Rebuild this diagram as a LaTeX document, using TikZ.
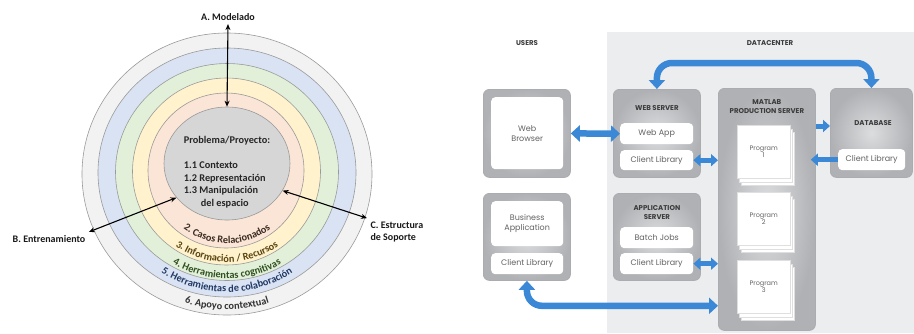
\documentclass[tikz,border=0pt]{standalone}
\usepackage{fontspec}
\setmainfont{Carlito}
\newfontfamily\rfont{Poppins}
\usetikzlibrary{arrows.meta,shapes.geometric,decorations.text,positioning}

\definecolor{ringsix}{HTML}{F2F2F2}
\definecolor{ringfive}{HTML}{DAE3F3}
\definecolor{ringfour}{HTML}{E2F0D9}
\definecolor{ringthree}{HTML}{FFF2CC}
\definecolor{ringtwo}{HTML}{FBE5D6}
\definecolor{ringone}{HTML}{D6D6D6}
\definecolor{ringline}{HTML}{9A9A9A}
\definecolor{txttwo}{HTML}{3A2A22}
\definecolor{txtthree}{HTML}{5A4410}
\definecolor{txtfour}{HTML}{2F5020}
\definecolor{txtfive}{HTML}{1F3864}
\definecolor{txtsix}{HTML}{333333}
\definecolor{dcbg}{HTML}{ECEDEF}
\definecolor{srvin}{HTML}{DCDDDF}
\definecolor{srvout}{HTML}{B0B1B4}
\definecolor{srvline}{HTML}{ABACAF}
\definecolor{hdrgray}{HTML}{3C3C3C}
\definecolor{bodygray}{HTML}{626262}
\definecolor{flowblue}{HTML}{3A88D6}

\tikzset{
  lbl/.style={font=\bfseries\fontsize{10}{12.5}\selectfont, text=black!90},
  dbl/.style={{Stealth[length=6pt,width=5pt]}-{Stealth[length=6pt,width=5pt]}, line width=1.1pt},
  srvbox/.style={draw=srvline, inner color=srvin, outer color=srvout, rounded corners=6pt, anchor=north west, inner sep=0pt, line width=0.8pt},
  wbox/.style={fill=white, rounded corners=4pt, anchor=north west, inner sep=0pt, font=\rfont\fontsize{8}{10}\selectfont, text=bodygray, align=center},
  hdr/.style={font=\rfont\bfseries\fontsize{7}{8.5}\selectfont, text=hdrgray, align=center},
  page/.style={fill=white, draw=gray!25, anchor=north west, minimum width=53pt, minimum height=53pt, inner sep=0pt, font=\rfont\fontsize{6.5}{7.5}\selectfont, text=bodygray, align=center},
  bigdbl/.style={draw=flowblue, line width=6.5pt, {Triangle[width=16pt,length=9pt]}-{Triangle[width=16pt,length=9pt]}},
  smdbl/.style={draw=flowblue, line width=5pt, {Triangle[width=12pt,length=7pt]}-{Triangle[width=12pt,length=7pt]}},
  smone/.style={draw=flowblue, line width=5pt, -{Triangle[width=12pt,length=7pt]}}
}

\begin{document}
\begin{tikzpicture}[x=1pt,y=-1pt]
\useasboundingbox (0,0) rectangle (914,333);

% rings
\foreach \cx/\cy/\rx/\ry/\col in {227/174/145/141/ringsix, 227/172.5/129/124.5/ringfive, 227/172/111.5/108.5/ringfour, 226.5/171.5/94/93.5/ringthree, 226/170.5/78/77.5/ringtwo}
  \filldraw[fill=\col, draw=ringline, line width=0.6pt] (\cx,\cy) ellipse [x radius=\rx, y radius=\ry];
\node (nucleo) [ellipse, fill=ringone, draw=ringline, line width=0.6pt, minimum width=126pt, minimum height=113pt, inner sep=0pt] at (227,163.5) {};
\node (tema) [align=left, font=\bfseries\fontsize{10.3}{12.5}\selectfont, text=black!85] at (227,172) {Problema/Proyecto:\\[12.5pt]1.1 Contexto\\1.2 Representación\\1.3 Manipulación\\\hspace*{17pt}del espacio};

\path[decorate, decoration={text along path, text align=center, text color=txttwo, text={|\bfseries\fontsize{10.3}{10}\selectfont|2. Casos Relacionados}}] (227,171) ++(160:72.5) arc[start angle=160, end angle=20, radius=72.5];
\path[decorate, decoration={text along path, text align=center, text color=txtthree, text={|\bfseries\fontsize{10.3}{10}\selectfont|3. Información / Recursos}}] (227,171) ++(160:91) arc[start angle=160, end angle=20, radius=91];
\path[decorate, decoration={text along path, text align=center, text color=txtfour, text={|\bfseries\fontsize{10.3}{10}\selectfont|4. Herramientas cognitivas}}] (227,171) ++(160:107.5) arc[start angle=160, end angle=20, radius=107.5];
\path[decorate, decoration={text along path, text align=center, text color=txtfive, text={|\bfseries\fontsize{10.3}{10}\selectfont|5. Herramientas de colaboración}}] (227,171) ++(160:121) arc[start angle=160, end angle=20, radius=121];
\path[decorate, decoration={text along path, text align=center, text color=txtsix, text={|\bfseries\fontsize{10.3}{10}\selectfont|6. Apoyo contextual}}] (227,171) ++(160:138.5) arc[start angle=160, end angle=20, radius=138.5];

\node (modA) [lbl] at (228,17) {A. Modelado};
\node (modB) [lbl] at (49,239) {B. Entrenamiento};
\node (modC) [lbl, align=left, anchor=west] at (367,232) {C. Estructura\\de Soporte};
\draw[dbl] (modA.south) -- (nucleo.north);
\draw[dbl] (modB.north east) -- (nucleo.214);
\draw[dbl] (modC.north west) -- (nucleo.334);

% users / datacenter
\fill[dcbg] (607,32) rectangle (914,333);
\node[hdr] (users) at (527,43) {USERS};
\node[hdr] (dc) at (770,43) {DATACENTER};

\node[srvbox, minimum width=87pt, minimum height=88pt] (browser) at (483,89) {};
\node[wbox, minimum width=72pt, minimum height=72pt] (webbr) at (491,97) {Web\\Browser};
\node[srvbox, minimum width=87pt, minimum height=87pt] (bizapp) at (483,193) {};
\node[wbox, minimum width=72pt, minimum height=45pt] (bizin) at (491,201) {Business\\Application};
\node[wbox, minimum width=72pt, minimum height=21pt] (bizlib) at (491,253) {Client Library};

\node[srvbox, minimum width=87pt, minimum height=88pt] (websrv) at (613,89) {};
\node[hdr] at ([yshift=-19pt]websrv.north) {WEB SERVER};
\node[wbox, minimum width=73pt, minimum height=21pt] (webapp) at (620,123) {Web App};
\node[wbox, minimum width=73pt, minimum height=20pt] (wslib) at (620,150) {Client Library};

\node[srvbox, minimum width=87pt, minimum height=87pt] (appsrv) at (613,193) {};
\node[hdr] at ([yshift=-19.5pt]appsrv.north) {APPLICATION\\SERVER};
\node[wbox, minimum width=73pt, minimum height=21pt] (batch) at (620,227) {Batch Jobs};
\node[wbox, minimum width=73pt, minimum height=21pt] (aslib) at (620,253) {Client Library};

\node[srvbox, minimum width=97pt, minimum height=242pt] (mps) at (718,88) {};
\node[hdr] at ([yshift=-18.5pt]mps.north) {MATLAB\\PRODUCTION SERVER};
\foreach \n/\y in {1/125,2/192,3/260}{
  \node[page] at (741,\y+7) {};
  \node[page] at (739,\y+3.5) {};
  \node[page] (prog\n) at (737,\y) {Program\\\n};
}

\node[srvbox, minimum width=82pt, minimum height=89pt] (db) at (830,88) {};
\node[hdr] at (873,123) {DATABASE};
\node[wbox, minimum width=67pt, minimum height=21pt] (dblib) at (838,149) {Client Library};

% flows
\draw[bigdbl] (browser.east) -- (webapp.west);
\draw[smdbl] (wslib.east) -- (wslib.east -| mps.west);
\draw[smdbl] (aslib.east) -- (aslib.east -| mps.west);
\draw[smone] ([yshift=-38pt]mps.north east) -- ([yshift=-38pt]db.north west);
\draw[smone, shorten >=-5pt] (dblib.west) -- (dblib.west -| mps.east);
\draw[bigdbl, rounded corners=15pt] (websrv.north) -- ++(0,-26) -| (db.north);
\coordinate (bizfoot) at ([yshift=-25pt]bizapp.south);
\draw[bigdbl, rounded corners=15pt] (bizapp.south) |- (bizfoot -| mps.west);
\end{tikzpicture}
\end{document}
